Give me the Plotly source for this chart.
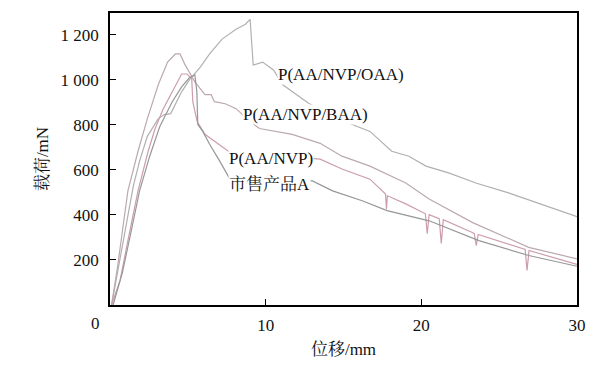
import plotly.graph_objects as go

# ---- data ----
oaa_x = [0.1, 0.5, 1.0, 1.5, 1.9, 2.4, 3.1, 3.5, 3.9, 4.6, 5.1, 5.8, 6.4, 7.2, 8.1, 8.7, 9.0, 9.1, 9.2,
         9.8, 10.5, 11.1, 12.0, 12.8, 14.1, 15.4, 16.7, 18.1, 19.2, 20.3, 21.8, 23.5, 25.6, 28.4, 30.0]
oaa_y = [0, 154, 352, 529, 639, 749, 828, 846, 850, 947, 1000, 1057, 1115, 1181, 1225, 1247, 1269, 1167, 1066,
         1079, 1044, 978, 934, 894, 850, 806, 771, 683, 661, 617, 586, 542, 498, 432, 392]

baa_x = [0.1, 0.5, 0.8, 1.15, 1.8, 2.4, 3.1, 3.7, 4.2, 4.5, 4.8, 5.1, 5.45, 6.1, 6.5, 6.7, 7.4, 8.1,
         9.0, 9.6, 11.7, 13.5, 14.9, 16.7, 19.0, 20.5, 23.3, 26.9, 30.0]
baa_y = [0, 176, 330, 507, 683, 828, 978, 1079, 1115, 1115, 1070, 1035, 991, 934, 934, 903, 894, 872,
         815, 784, 758, 718, 661, 617, 542, 471, 366, 256, 205]

nvp_x = [0.1, 0.65, 1.15, 1.8, 2.45, 2.9, 3.4, 4.0, 4.6, 4.95, 5.25, 5.32, 5.6, 6.1, 6.9, 7.6, 9.0, 11.5,
         13.5, 14.9, 16.7, 17.7, 17.76, 17.82, 19.0, 20.26, 20.38, 20.5, 21.15, 21.28, 21.41, 23.27, 23.4,
         23.53, 23.65, 26.67, 26.79, 26.92, 30.0]
nvp_y = [0, 110, 286, 507, 683, 784, 868, 947, 1026, 1026, 1004, 903, 815, 758, 718, 683, 674, 661,
         648, 604, 559, 493, 427, 485, 449, 405, 317, 401, 383, 273, 379, 322, 317,
         264, 313, 247, 154, 242, 180]

mkt_x = [0.2, 0.8, 1.3, 1.9, 2.55, 3.2, 4.0, 4.6, 5.1, 5.45, 5.58, 5.64, 5.96, 6.4, 7.05, 7.7, 10.3,
         13.0, 14.3, 16.2, 17.8, 20.5, 23.7, 26.9, 30.0]
mkt_y = [0, 145, 308, 507, 661, 793, 903, 969, 1009, 1022, 947, 802, 771, 714, 639, 559, 555,
         551, 507, 463, 419, 374, 286, 220, 172]

x_ticks = [10, 20, 30]
y_ticks = [200, 400, 600, 800, 1000, 1200]
y_tick_text = ["200", "400", "600", "800", "1 000", "1 200"]

labels = ["P(AA/NVP/OAA)", "P(AA/NVP/BAA)", "P(AA/NVP)", "市售产品A"]
label_x = [10.75, 8.5, 7.6, 7.6]
label_y = [1026, 846, 652, 537]

FONT = "'Liberation Serif', 'Times New Roman', 'Noto Serif CJK SC', 'Noto Sans CJK SC', serif"

fig = go.Figure()
series = [
    (oaa_x, oaa_y, "#b0b0b0"),
    (baa_x, baa_y, "#bba9ae"),
    (nvp_x, nvp_y, "#cc9dab"),
    (mkt_x, mkt_y, "#979797"),
]
for xs, ys, col in series:
    fig.add_trace(go.Scatter(x=xs, y=ys, mode="lines",
                             line=dict(color=col, width=1.2), showlegend=False,
                             hoverinfo="skip"))

for t, lx, ly in zip(labels, label_x, label_y):
    fig.add_annotation(x=lx, y=ly, text=t, showarrow=False, xanchor="left", yanchor="middle",
                       font=dict(family=FONT, size=17, color="#111"), bgcolor="white", borderpad=0)

# corner "0" label
fig.add_annotation(x=-0.03, y=-0.062, xref="paper", yref="paper", text="0", showarrow=False,
                   xanchor="center", yanchor="middle", font=dict(family=FONT, size=17, color="#111"))

fig.update_layout(
    width=616, height=366,
    margin=dict(l=102, r=47, t=3, b=69),
    paper_bgcolor="white", plot_bgcolor="white",
    font=dict(family=FONT, size=17, color="#111"),
)
fig.update_xaxes(range=[0, 30], tickvals=x_ticks, ticks="inside", ticklen=6, tickwidth=1,
                 tickcolor="black", showline=True, linecolor="black", linewidth=1.5, mirror=True,
                 showgrid=False, zeroline=False, ticklabelstandoff=4,
                 title=dict(text="位移/mm", standoff=9, font=dict(family=FONT, size=17)))
fig.update_yaxes(range=[0, 1297], tickvals=y_ticks, ticktext=y_tick_text, ticks="inside", ticklen=6,
                 tickwidth=1, tickcolor="black", showline=True, linecolor="black", linewidth=1.5,
                 mirror=True, showgrid=False, zeroline=False, ticklabelstandoff=6,
                 title=dict(text="载荷/mN", standoff=8, font=dict(family=FONT, size=17)))

fig.write_html("out.html")
